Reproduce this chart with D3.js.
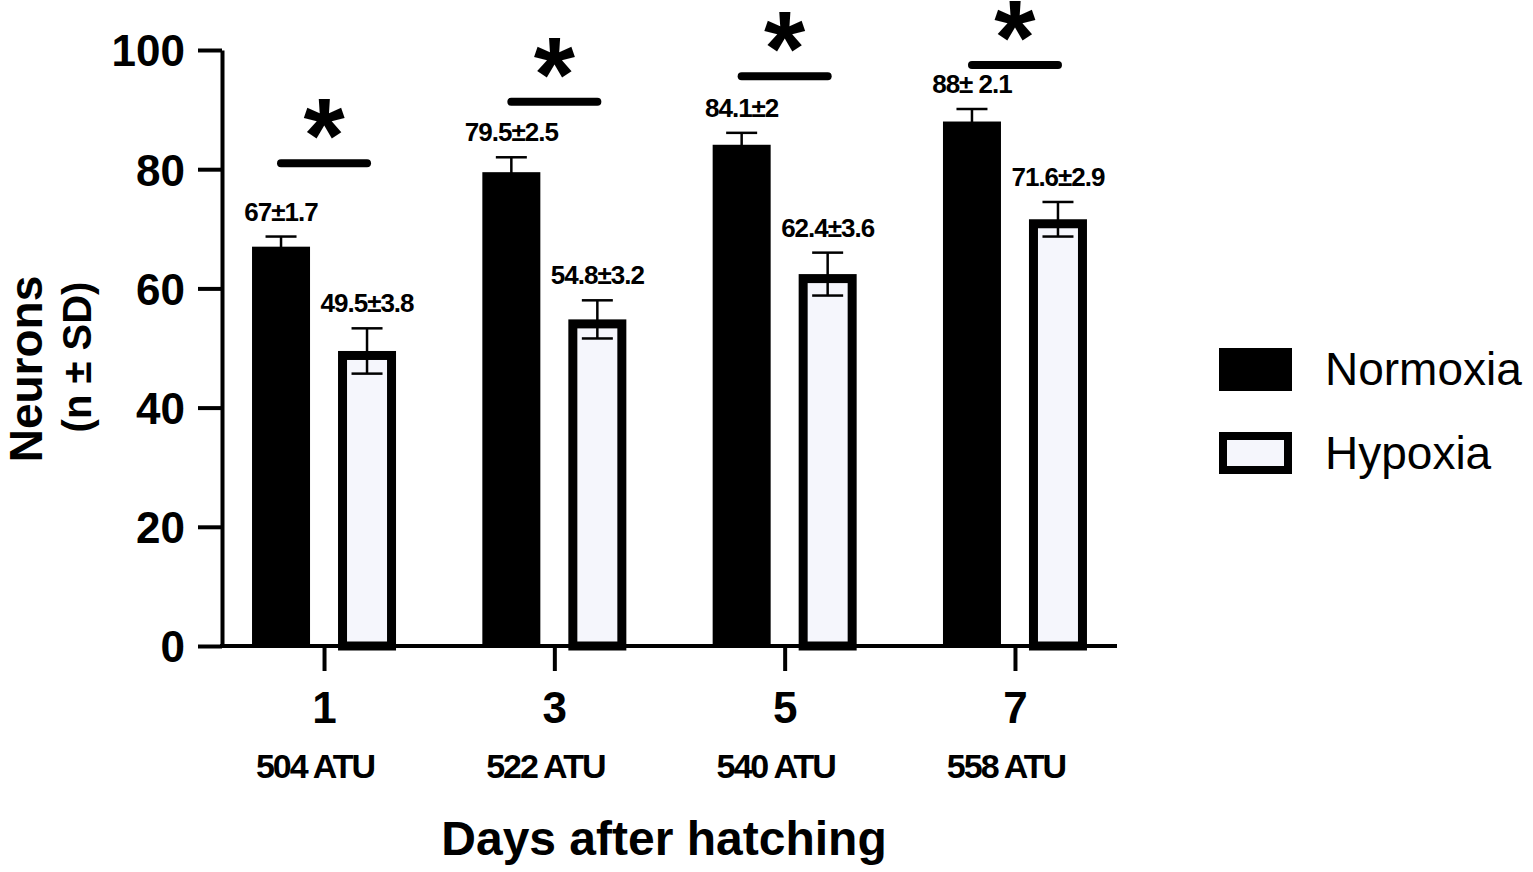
<!DOCTYPE html>
<html>
<head>
<meta charset="utf-8">
<script src="https://cdn.jsdelivr.net/npm/d3@7"></script>
<style>
  body { margin: 0; background: #fff; }
  svg { font-family: "Liberation Sans", Arial, sans-serif; }
</style>
</head>
<body>
<svg id="vis"></svg>
<script>
// Datos
const days = ["1", "3", "5", "7"];
const atu = ["504 ATU", "522 ATU", "540 ATU", "558 ATU"];
const groups = ["Normoxia", "Hypoxia"];
const normoxia = [67, 79.5, 84.1, 88];
const normoxiaSD = [1.7, 2.5, 2, 2.1];
const hypoxia = [49.5, 54.8, 62.4, 71.6];
const hypoxiaSD = [3.8, 3.2, 3.6, 2.9];
const normoxiaLabels = ["67±1.7", "79.5±2.5", "84.1±2", "88± 2.1"];
const hypoxiaLabels = ["49.5±3.8", "54.8±3.2", "62.4±3.6", "71.6±2.9"];
const sigLevel = [81, 91.3, 95.6, 97.5];
const yTicks = [0, 20, 40, 60, 80, 100];

const WIDTH = 1533;
const HEIGHT = 872;
const MARGIN = { top: 50, bottom: 226, left: 222, right: 416 };
const FILL_HYPOXIA = "#f5f6fc";
const SW = 9;

const svg = d3.select("#vis")
    .attr("width", WIDTH)
    .attr("height", HEIGHT);

const x = d3.scalePoint()
    .domain(days)
    .range([MARGIN.left, WIDTH - MARGIN.right])
    .padding(0.443);

const xSub = d3.scaleBand()
    .domain(groups)
    .range([-72, 72])
    .paddingInner(0.3256);

const y = d3.scaleLinear()
    .domain([0, 100])
    .range([HEIGHT - MARGIN.bottom, MARGIN.top]);

const datos = days.map((d, i) => ({
    day: d,
    bars: [
        { key: "Normoxia", v: normoxia[i], sd: normoxiaSD[i], label: normoxiaLabels[i] },
        { key: "Hypoxia", v: hypoxia[i], sd: hypoxiaSD[i], label: hypoxiaLabels[i] }
    ]
}));

// Barras
const grupo = svg.append("g")
    .selectAll("g")
    .data(datos)
    .join("g")
    .attr("transform", d => `translate(${x(d.day)},0)`);

grupo.selectAll("rect")
    .data(d => d.bars)
    .join("rect")
    .attr("x", d => d.key === "Hypoxia" ? xSub(d.key) + SW / 2 : xSub(d.key))
    .attr("width", d => d.key === "Hypoxia" ? xSub.bandwidth() - SW : xSub.bandwidth())
    .attr("y", d => d.key === "Hypoxia" ? y(d.v) + SW / 2 : y(d.v))
    .attr("height", d => d.key === "Hypoxia" ? y(0) - y(d.v) - SW / 2 : y(0) - y(d.v))
    .attr("fill", d => d.key === "Hypoxia" ? FILL_HYPOXIA : "black")
    .attr("stroke", d => d.key === "Hypoxia" ? "black" : "none")
    .attr("stroke-width", SW);

// Barras de error
const err = grupo.selectAll("g.err")
    .data(d => d.bars)
    .join("g")
    .attr("class", "err")
    .attr("transform", d => `translate(${xSub(d.key) + xSub.bandwidth() / 2},0)`)
    .attr("stroke", "black")
    .attr("stroke-width", 2.5);

err.append("line")
    .attr("y1", d => y(d.v - d.sd))
    .attr("y2", d => y(d.v + d.sd));
err.append("line")
    .attr("x1", -15.5).attr("x2", 15.5)
    .attr("y1", d => y(d.v + d.sd))
    .attr("y2", d => y(d.v + d.sd));
err.append("line")
    .attr("x1", -15.5).attr("x2", 15.5)
    .attr("y1", d => y(d.v - d.sd))
    .attr("y2", d => y(d.v - d.sd));

// Etiquetas de valores
grupo.selectAll("text.val")
    .data(d => d.bars)
    .join("text")
    .attr("class", "val")
    .attr("x", d => xSub(d.key) + xSub.bandwidth() / 2)
    .attr("y", d => y(d.v + d.sd) - 16)
    .attr("text-anchor", "middle")
    .attr("font-size", 26)
    .attr("font-weight", "bold")
    .attr("letter-spacing", -1)
    .text(d => d.label);

// Significancia
grupo.append("line")
    .attr("x1", -43).attr("x2", 43)
    .attr("y1", (d, i) => y(sigLevel[i]))
    .attr("y2", (d, i) => y(sigLevel[i]))
    .attr("stroke", "black")
    .attr("stroke-width", 8)
    .attr("stroke-linecap", "round");

grupo.append("text")
    .attr("x", 0)
    .attr("y", (d, i) => y(sigLevel[i]) - 40)
    .attr("dy", "0.46em")
    .attr("text-anchor", "middle")
    .attr("font-size", 106)
    .attr("font-weight", "bold")
    .text("*");

// EJE Y
const ejeY = d3.axisLeft(y).tickValues(yTicks).tickSize(24).tickSizeOuter(0).tickPadding(13);
const gY = svg.append("g")
    .attr("transform", `translate(${MARGIN.left},0)`)
    .call(ejeY);
gY.selectAll("path, line").attr("stroke", "black").attr("stroke-width", 4);
gY.selectAll("text")
    .attr("font-size", 44)
    .attr("font-weight", "bold")
    .attr("font-family", "Liberation Sans, Arial, sans-serif")
    .attr("fill", "black")
    .attr("dy", "0.36em");

// EJE X
const ejeX = d3.axisBottom(x).tickSize(25).tickSizeOuter(0).tickPadding(21);
const gX = svg.append("g")
    .attr("transform", `translate(0,${y(0)})`)
    .call(ejeX);
gX.select("path").attr("d", `M${MARGIN.left - 2},0H${WIDTH - MARGIN.right}`);
gX.selectAll("path, line").attr("stroke", "black").attr("stroke-width", 4);
gX.selectAll("text")
    .attr("font-size", 44)
    .attr("font-weight", "bold")
    .attr("font-family", "Liberation Sans, Arial, sans-serif")
    .attr("fill", "black");

svg.append("g")
    .selectAll("text")
    .data(days)
    .join("text")
    .attr("x", d => x(d) - 9)
    .attr("y", 778)
    .attr("text-anchor", "middle")
    .attr("font-size", 34)
    .attr("font-weight", "bold")
    .attr("letter-spacing", -2)
    .text((d, i) => atu[i]);

// Nombres de ejes
svg.append("text")
    .attr("x", 664)
    .attr("y", 855)
    .attr("text-anchor", "middle")
    .attr("font-size", 48)
    .attr("font-weight", "bold")
    .text("Days after hatching");

svg.append("text")
    .attr("transform", "translate(42,369) rotate(-90)")
    .attr("text-anchor", "middle")
    .attr("font-size", 46)
    .attr("font-weight", "bold")
    .text("Neurons");

svg.append("text")
    .attr("transform", "translate(91,357) rotate(-90)")
    .attr("text-anchor", "middle")
    .attr("font-size", 40)
    .attr("font-weight", "bold")
    .text("(n ± SD)");

// Leyenda
const leyenda = svg.append("g")
    .selectAll("g")
    .data(groups)
    .join("g")
    .attr("transform", (d, i) => `translate(1219,${348 + i * 84})`);

leyenda.append("rect")
    .attr("x", d => d === "Hypoxia" ? 4 : 0)
    .attr("y", d => d === "Hypoxia" ? 4 : 0)
    .attr("width", d => d === "Hypoxia" ? 65 : 73)
    .attr("height", d => d === "Hypoxia" ? 34 : 43)
    .attr("fill", d => d === "Hypoxia" ? FILL_HYPOXIA : "black")
    .attr("stroke", d => d === "Hypoxia" ? "black" : "none")
    .attr("stroke-width", 8);

leyenda.append("text")
    .attr("x", 106)
    .attr("y", 37)
    .attr("font-size", 46)
    .text(d => d);
</script>
</body>
</html>
